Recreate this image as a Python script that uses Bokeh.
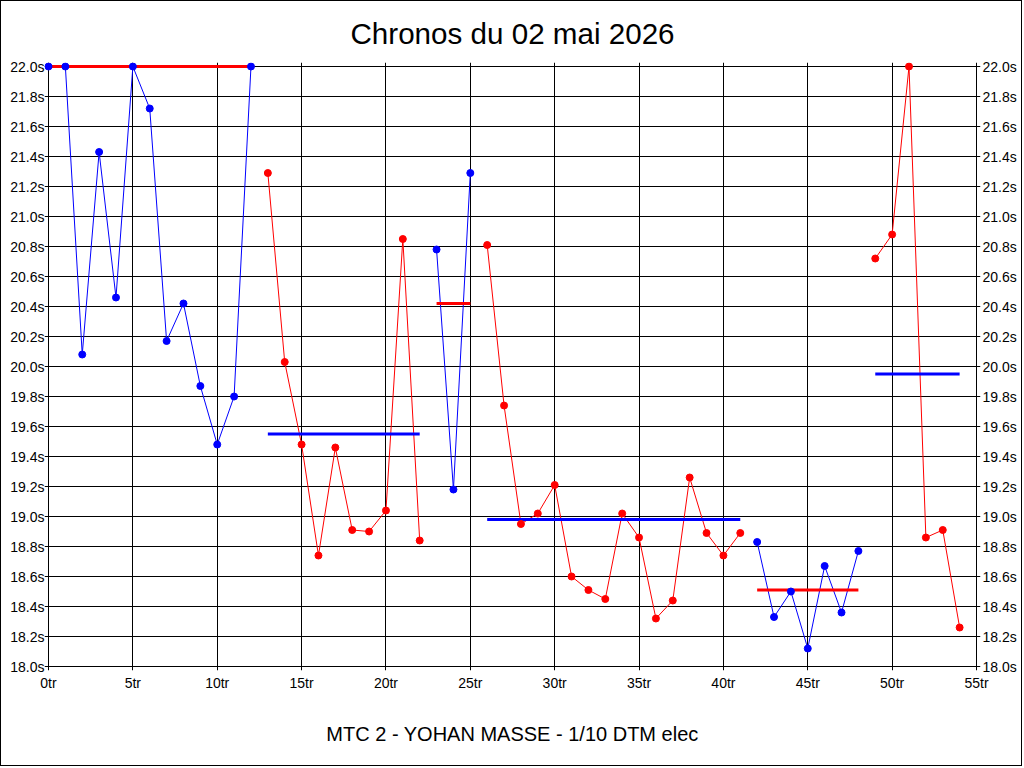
from bokeh.plotting import figure
from bokeh.models import LinearAxis, Range1d, FixedTicker, PrintfTickFormatter
from bokeh.embed import file_html
from bokeh.resources import INLINE

# ---- data ----
laps = list(range(55))
times = [22.0, 22.0, 20.08, 21.43, 20.46, 22.0, 21.72, 20.17, 20.42, 19.87, 19.48, 19.80, 22.0,
         21.29, 20.03, 19.48, 18.74, 19.46, 18.91, 18.90, 19.04, 20.85, 18.84,
         20.78, 19.18, 21.29,
         20.81, 19.74, 18.95, 19.02, 19.21, 18.60, 18.51, 18.45, 19.02, 18.86, 18.32, 18.44,
         19.26, 18.89, 18.74, 18.89,
         18.83, 18.33, 18.50, 18.12, 18.67, 18.36, 18.77,
         20.72, 20.88, 22.0, 18.86, 18.91, 18.26]
stint_first = [0, 13, 23, 26, 42, 49]
stint_last = [12, 22, 25, 41, 48, 54]
stint_avg = [22.0, 19.55, 20.42, 18.98, 18.51, 19.95]
stint_color = ["blue", "red", "blue", "red", "blue", "red"]
avg_color = ["red", "blue", "red", "blue", "red", "blue"]
y_ticks = [round(18.0 + 0.2 * i, 1) for i in range(21)]
x_ticks = [0, 5, 10, 15, 20, 25, 30, 35, 40, 45, 50, 55]
title_text = "Chronos du 02 mai 2026"
subtitle_text = "MTC 2 - YOHAN MASSE - 1/10 DTM elec"

FONT = "Liberation Sans"

# small padding (in pixels) so that marks on the border are not clipped
PAD = 4
frame_w, frame_h = 928, 600
xpad = PAD * 55 / frame_w
ypad = PAD * 4.0 / frame_h

p = figure(width=1022, height=766, output_backend="svg", toolbar_location=None,
           x_range=Range1d(0 - xpad, 55 + xpad), y_range=Range1d(18.0 - ypad, 22.0 + ypad),
           min_border_left=47 - PAD, min_border_right=47 - PAD,
           min_border_top=65 - PAD, min_border_bottom=101 - PAD,
           background_fill_color="white", border_fill_color="white",
           outline_line_color=None)
p.styles = {"border": "1px solid black"}

p.title.text = title_text
p.title.text_font = FONT
p.title.text_font_size = "29.6px"
p.title.text_font_style = "normal"
p.title.align = "center"
p.title.text_color = "black"
p.title.standoff = 25

fmt_y = PrintfTickFormatter(format="%.1fs")
fmt_x = PrintfTickFormatter(format="%dtr")

for ax in p.yaxis:
    ax.ticker = FixedTicker(ticks=y_ticks)
    ax.formatter = fmt_y
    ax.major_label_standoff = 0
right = LinearAxis(ticker=FixedTicker(ticks=y_ticks), formatter=fmt_y)
right.major_label_standoff = 2
p.add_layout(right, "right")

for ax in p.xaxis:
    ax.ticker = FixedTicker(ticks=x_ticks)
    ax.formatter = fmt_x
    ax.major_label_standoff = 4
    ax.axis_label = subtitle_text
    ax.axis_label_text_font = FONT
    ax.axis_label_text_font_size = "20px"
    ax.axis_label_text_font_style = "normal"
    ax.axis_label_text_color = "black"
    ax.axis_label_standoff = 29

for ax in p.xaxis + p.yaxis + [right]:
    ax.major_tick_line_color = None
    ax.minor_tick_line_color = None
    ax.major_tick_out = 0
    ax.major_tick_in = 0
    ax.minor_tick_out = 0
    ax.minor_tick_in = 0
    ax.axis_line_color = None
    ax.major_label_text_font = FONT
    ax.major_label_text_font_size = "14px"
    ax.major_label_text_color = "black"

p.xgrid.ticker = FixedTicker(ticks=x_ticks)
p.ygrid.ticker = FixedTicker(ticks=y_ticks)
p.xgrid.grid_line_color = "black"
p.ygrid.grid_line_color = "black"
p.xgrid.grid_line_width = 1
p.ygrid.grid_line_width = 1

# lap-time lines per stint
for f, l, c in zip(stint_first, stint_last, stint_color):
    p.line(laps[f:l + 1], times[f:l + 1], line_color=c, line_width=1)

# stint averages
p.segment(x0=stint_first, x1=stint_last, y0=stint_avg, y1=stint_avg,
          line_color=avg_color, line_width=3)

# lap markers on top
for f, l, c in zip(stint_first, stint_last, stint_color):
    p.scatter(laps[f:l + 1], times[f:l + 1], marker="circle", size=7,
              fill_color=c, line_color=c)

open("out.html", "w").write(file_html(p, INLINE))
